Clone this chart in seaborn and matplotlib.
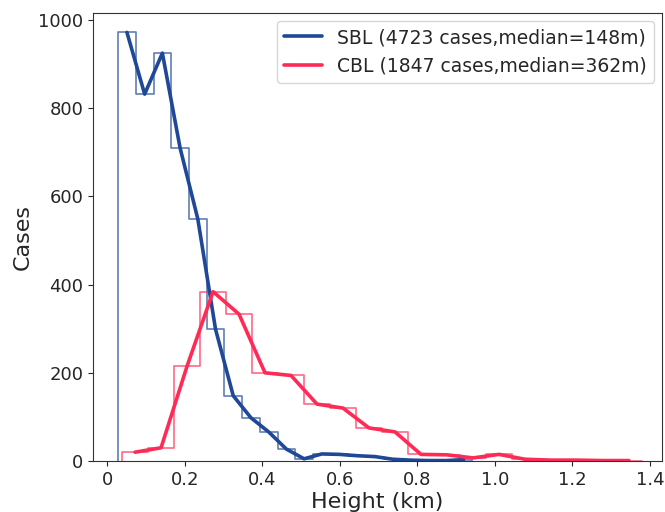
import numpy as np
import pandas as pd
import matplotlib
matplotlib.use("Agg")
import matplotlib.pyplot as plt
from matplotlib.colors import to_rgba
import seaborn as sns

# bin counts (20 bins per regime)
sbl_counts = [972, 832, 925, 710, 549, 299, 148, 98, 66, 27,
              5, 16, 15, 12, 10, 4, 2, 1, 1, 3]
cbl_counts = [20, 30, 215, 384, 333, 200, 194, 129, 120, 75,
              66, 15, 14, 7, 15, 4, 2, 2, 1, 1]

# bin ranges in km
sbl_range = (0.0284, 0.942)
cbl_range = (0.0387, 1.379)

sbl_label = "SBL (4723 cases,median=148m)"
cbl_label = "CBL (1847 cases,median=362m)"

xticks = [0, 0.2, 0.4, 0.6, 0.8, 1.0, 1.2, 1.4]
xtick_labels = ["0", "0.2", "0.4", "0.6", "0.8", "1.0", "1.2", "1.4"]
yticks = [0, 200, 400, 600, 800, 1000]

blue = "#1f4896"
red = "#ff2a55"

sns.set_style("ticks")
plt.rcParams["font.family"] = ["DejaVu Sans"]

fig = plt.figure(figsize=(6.65, 5.12), dpi=100)
ax = fig.add_axes([0.14, 0.0996, 0.855, 0.875])


def draw(counts, rng, color, label):
    edges = np.linspace(rng[0], rng[1], len(counts) + 1)
    df = pd.DataFrame({"height": 0.5 * (edges[:-1] + edges[1:]),
                       "cases": counts})
    sns.histplot(data=df, x="height", weights="cases", bins=list(edges),
                 element="step", fill=True, color=color, facecolor="none",
                 edgecolor=to_rgba(color, 0.7), linewidth=1.2, ax=ax)
    # push the outline's baseline below the axes so it does not show on the spine
    for p in ax.collections[-1].get_paths():
        v = p.vertices
        v[v[:, 1] == 0, 1] = -30
    sns.lineplot(data=df, x="height", y="cases", color=color,
                 linewidth=2.6, label=label, ax=ax)


draw(sbl_counts, sbl_range, blue, sbl_label)
draw(cbl_counts, cbl_range, red, cbl_label)

ax.set_xlim(-0.036, 1.43)
ax.set_ylim(0, 1016)
ax.set_xticks(xticks)
ax.set_xticklabels(xtick_labels)
ax.set_yticks(yticks)
ax.tick_params(labelsize=13)
ax.set_xlabel("Height (km)", fontsize=16, labelpad=2)
ax.set_ylabel("Cases", fontsize=16)
for s in ax.spines.values():
    s.set_color("#333333")

ax.legend(loc="upper right", fontsize=13.5, frameon=True, borderaxespad=0.4)

fig.savefig("out.png", dpi=100)
